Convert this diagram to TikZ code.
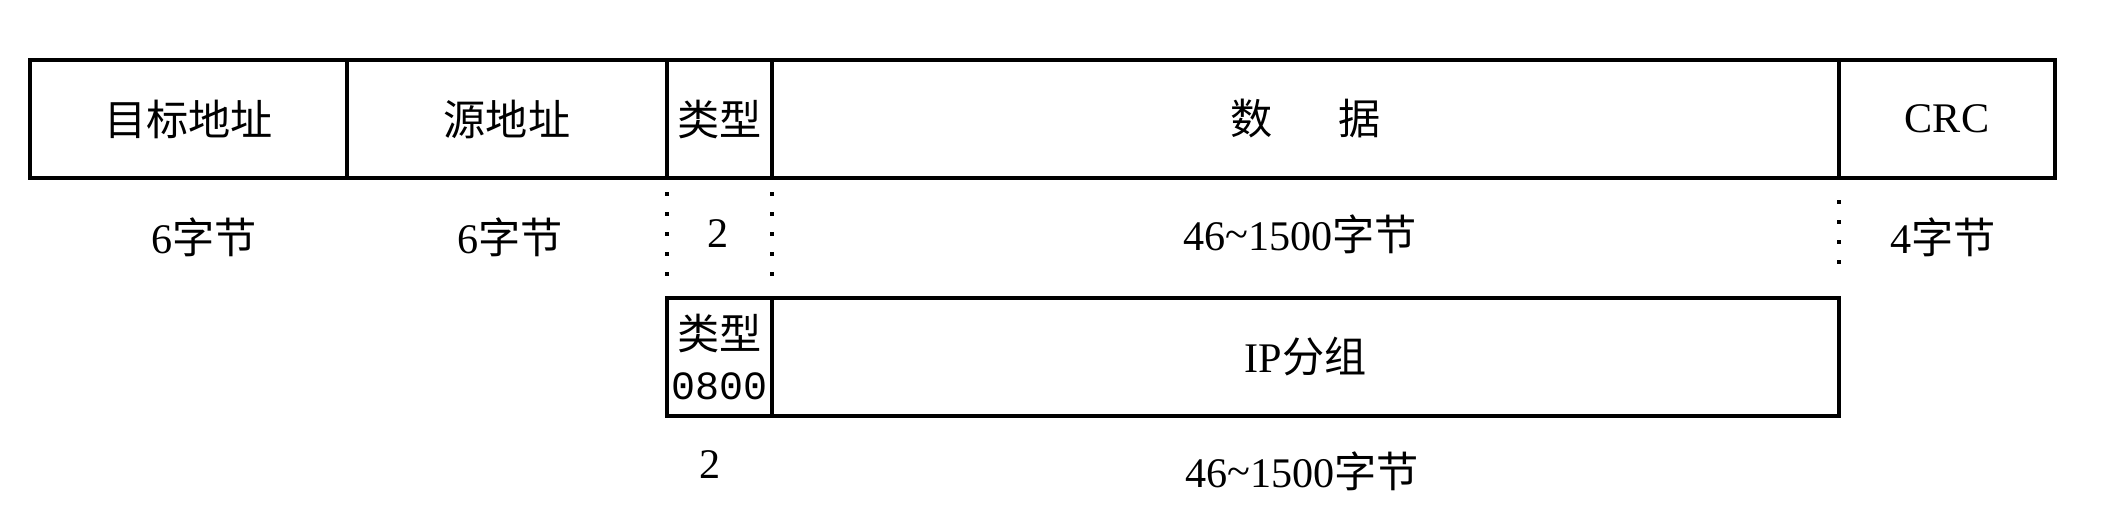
\documentclass[tikz,border=0pt]{standalone}
\usepackage{fontspec}
\setmainfont{Liberation Serif}
\newfontfamily\cjk{Noto Sans CJK SC}
\newfontfamily\mono{Liberation Mono}
\usepackage{tikz}
\usetikzlibrary{positioning}
\tikzset{
  field/.style={rectangle, draw=black, line width=1.1pt, anchor=west,
    minimum height=1.18cm, inner sep=0pt, outer sep=0pt, align=center,
    font=\fontsize{12pt}{15pt}\selectfont},
  lbl/.style={inner sep=0pt, font=\fontsize{12pt}{15pt}\selectfont},
  gap/.style={line width=1pt, dash pattern=on 1pt off 4.7pt}
}
\begin{document}
\begin{tikzpicture}
  \useasboundingbox (0,0) rectangle (21.2,5.04);

  % Ethernet frame
  \node[field, minimum width=3.17cm] (dst) at (0.30,3.85) {\cjk 目标地址};
  \node[field, minimum width=3.20cm, right=0pt of dst] (src) {\cjk 源地址};
  \node[field, minimum width=1.05cm, right=0pt of src] (typ) {\cjk 类型};
  \node[field, minimum width=10.67cm, right=0pt of typ] (data) {\cjk 数\hspace{0.66cm}据};
  \node[field, minimum width=2.16cm, right=0pt of data] (crc) {CRC};

  % Field sizes
  \node[lbl] (ldst) at (2.04,2.67) {6{\cjk 字节}};
  \node[lbl] (lsrc) at (5.10,2.67) {6{\cjk 字节}};
  \node[lbl] (ltyp) at (7.18,2.70) {2};
  \node[lbl] (ldata) at (13.00,2.70) {46\raisebox{0.1ex}{\textasciitilde}1500{\cjk 字节}};
  \node[lbl] (lcrc) at (19.43,2.67) {4{\cjk 字节}};

  % IP datagram inside the data field
  \node[field, minimum width=1.05cm, below=1.2cm of typ] (ityp)
    {{\cjk 类型}\\[-1pt]{\mono\fontsize{11.4pt}{13pt}\selectfont 0800}};
  \node[field, minimum width=10.67cm, right=0pt of ityp] (ip) {IP{\cjk 分组}};

  \node[lbl] (lityp) at (7.10,0.39) {2};
  \node[lbl] (lip) at (13.02,0.33) {46\raisebox{0.1ex}{\textasciitilde}1500{\cjk 字节}};

  % Dotted guides
  \draw[gap] ([yshift=-0.14cm]typ.south west) -- ([yshift=0.18cm]ityp.north west);
  \draw[gap] ([yshift=-0.14cm]typ.south east) -- ([yshift=0.18cm]ityp.north east);
  \draw[gap] ([yshift=-0.22cm]data.south east) -- ([yshift=0.18cm]ip.north east);
\end{tikzpicture}
\end{document}
